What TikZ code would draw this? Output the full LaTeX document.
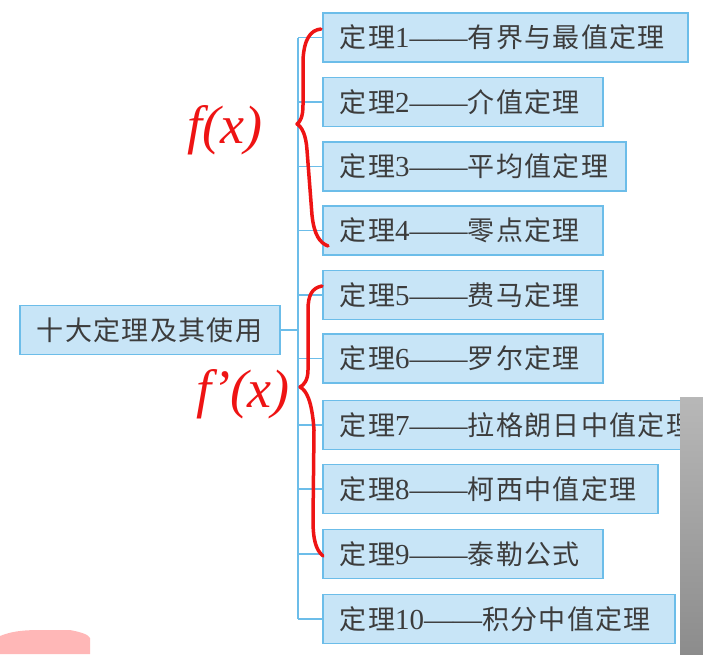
\documentclass[tikz,border=0pt]{standalone}
\usepackage{fontspec}
\setmainfont{Liberation Serif}
\newfontfamily\cjk[LetterSpace=5]{Noto Sans CJK SC}
\newcommand\zh[1]{{\cjk\fontsize{27}{30}\selectfont #1}}
\definecolor{boxline}{HTML}{6CBDE9}
\definecolor{boxfill}{HTML}{C8E5F7}
\definecolor{txt}{HTML}{3C3C3C}
\definecolor{pen}{HTML}{EE1414}
\begin{document}
\begin{tikzpicture}[x=1pt,y=-1pt,
  box/.style={draw=boxline, fill=boxfill, line width=1.6pt, minimum height=49pt,
    inner xsep=17pt, inner ysep=0pt, anchor=west, align=left,
    font=\fontsize{29}{30}\selectfont, text=txt},
  link/.style={draw=boxline, line width=1.8pt},
  hand/.style={draw=pen, line width=3.5pt, line cap=round, line join=round},
  handtext/.style={text=pen, font=\fontsize{54}{58}\selectfont\itshape}]
\useasboundingbox (0,0) rectangle (703,654);
\fill[white] (0,0) rectangle (703,654);
% boxes
\node[box, text width=226pt] (root) at (19,330) {\mbox{\zh{十大定理及其使用}}};
\node[box, text width=331pt] (t1) at (322,37.5) {\mbox{\zh{定理}1——\zh{有界与最值定理}}};
\node[box, text width=246pt] (t2) at (322,102) {\mbox{\zh{定理}2——\zh{介值定理}}};
\node[box, text width=269pt] (t3) at (322,166.5) {\mbox{\zh{定理}3——\zh{平均值定理}}};
\node[box, text width=246pt] (t4) at (322,230.5) {\mbox{\zh{定理}4——\zh{零点定理}}};
\node[box, text width=246pt] (t5) at (322,295) {\mbox{\zh{定理}5——\zh{费马定理}}};
\node[box, text width=246pt] (t6) at (322,358.5) {\mbox{\zh{定理}6——\zh{罗尔定理}}};
\node[box, text width=366pt] (t7) at (322,425) {\mbox{\zh{定理}7——\zh{拉格朗日中值定理}}};
\node[box, text width=301pt] (t8) at (322,489) {\mbox{\zh{定理}8——\zh{柯西中值定理}}};
\node[box, text width=246pt] (t9) at (322,554) {\mbox{\zh{定理}9——\zh{泰勒公式}}};
\node[box, text width=318pt] (t10) at (322,619) {\mbox{\zh{定理}10——\zh{积分中值定理}}};
% connectors
\coordinate (tx) at (298,0);
\draw[link] (root.east) -- (root.east -| tx);
\draw[link] (t1.west -| tx) -- (t10.west -| tx);
\foreach \i in {1,...,10} \draw[link] (t\i.west -| tx) -- (t\i.west);
% handwritten annotations
\draw[hand] (321,29) .. controls (310,30) and (304,40) .. (303,60) -- (303,105)
  .. controls (303,117) and (300,122) .. (297,124)
  .. controls (302,127) and (306,135) .. (307,150) -- (312,215)
  .. controls (314,235) and (320,243) .. (328,246);
\draw[hand] (322,286) .. controls (312,288) and (308,295) .. (308,310) -- (308,370)
  .. controls (308,380) and (304,385) .. (300,387)
  .. controls (306,390) and (312,400) .. (314,430) -- (313,520)
  .. controls (313,540) and (316,550) .. (323,556);
\node[handtext] (fx) at (225,130) {f(x)};
\node[handtext] (fpx) at (243,394) {f\kern1pt\textquoteright(x)};
% screen artefacts
\shade[top color=black!28, bottom color=black!45] (680,397) rectangle (703,654);
\fill[red!35!white, opacity=0.8] (0,654) -- (0,636) .. controls (10,632) and (20,630) .. (40,630) -- (70,630) .. controls (80,632) and (88,634) .. (90,638) -- (90,654) -- cycle;
\end{tikzpicture}
\end{document}
